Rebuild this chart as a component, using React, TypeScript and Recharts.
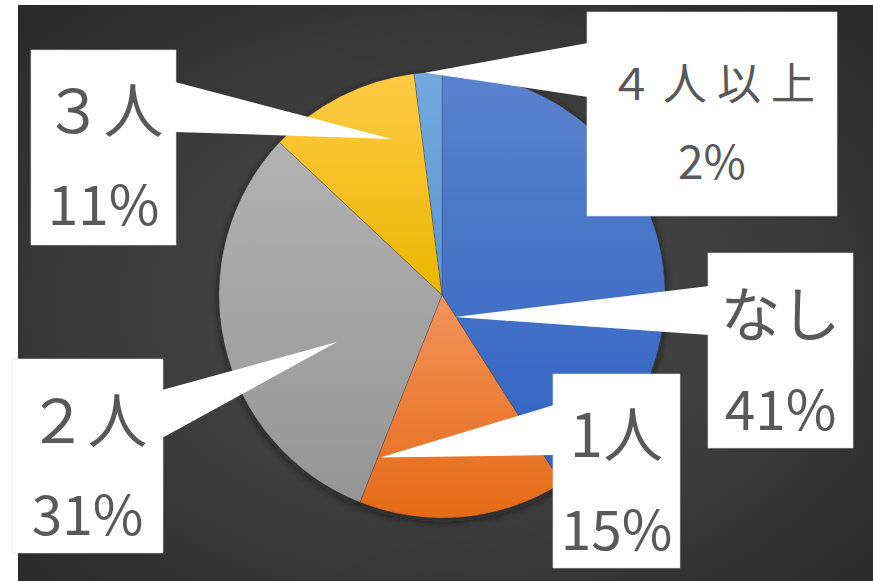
import React from 'react';
import { PieChart, Pie, Cell } from 'recharts';

// ---- data ----
const categories = ['なし', '1人', '２人', '３人', '４人以上'];
const values = [41, 15, 31, 11, 2];

// ---- styles / layout ----
const W = 873;
const H = 581;
const CX = 442;
const CY = 295;
const R = 223;

const gradients = [
  ['#5B82CD', '#2F63C2'],
  ['#F3935A', '#E56A17'],
  ['#B2B2B2', '#959595'],
  ['#FFCA45', '#EBB600'],
  ['#74A9DD', '#5898D4'],
];

// box: [x, y, w, h], wedge: [y1, y2] on the side facing the pie, tip: [angle clockwise from top, radius fraction]
const callouts = [
  { box: [708, 253, 145, 195], wedge: [286, 335], tip: [149.4, 0.115], l1y: 310, l2y: 406, fs1: 60, fs2: 55, ls1: 0 },
  { box: [553, 374, 127, 194], wedge: [405, 455], tip: [200.8, 0.78], l1y: 430, l2y: 526, fs1: 60, fs2: 55, ls1: 0 },
  { box: [12, 359, 151, 194], wedge: [390, 438], tip: [245.9, 0.516], l1y: 416, l2y: 511, fs1: 60, fs2: 55, ls1: 0 },
  { box: [31, 50, 145, 195], wedge: [82, 132], tip: [342.2, 0.735], l1y: 106, l2y: 201, fs1: 60, fs2: 55, ls1: 0 },
  { box: [587, 12, 250, 204], wedge: [43, 97], tip: [355.6, 1.0], l1y: 81, l2y: 159, fs1: 44, fs2: 46, ls1: 10 },
];

const total = values.reduce((a, b) => a + b, 0);
const data = categories.map((name, i) => ({ name, value: values[i] }));

const FONT = "'Noto Sans CJK JP', 'Noto Sans', sans-serif";
const TEXT = '#595959';

const renderCallout = (props: any) => {
  const { cx, cy, outerRadius, index } = props;
  const c = callouts[index];
  if (!c) return null;
  const [bx, by, bw, bh] = c.box;
  const ang = (c.tip[0] * Math.PI) / 180;
  const r = c.tip[1] * outerRadius;
  const tx = cx + r * Math.sin(ang);
  const ty = cy - r * Math.cos(ang);
  const baseX = tx < bx ? bx + 1 : bx + bw - 1;
  const midX = bx + bw / 2;
  const pct = `${Math.round((values[index] / total) * 100)}%`;
  return (
    <g key={`callout-${index}`}>
      <rect x={bx} y={by} width={bw} height={bh} fill="#ffffff" stroke="#e2e2e2" strokeWidth={0.6} />
      <polygon points={`${baseX},${c.wedge[0]} ${baseX},${c.wedge[1]} ${tx},${ty}`} fill="#ffffff" />
      <text
        x={midX + c.ls1 / 2}
        y={c.l1y}
        textAnchor="middle"
        dominantBaseline="central"
        fontFamily={FONT}
        fontSize={c.fs1}
        letterSpacing={c.ls1}
        fill={TEXT}
      >
        {categories[index]}
      </text>
      <text
        x={midX}
        y={c.l2y}
        textAnchor="middle"
        dominantBaseline="central"
        fontFamily={FONT}
        fontSize={c.fs2}
        fill={TEXT}
      >
        {pct}
      </text>
    </g>
  );
};

export default function App() {
  return (
    <div style={{ position: 'absolute', left: 0, top: 0, width: W, height: H, background: '#ffffff' }}>
      <div
        style={{
          position: 'absolute',
          left: 18,
          top: 5,
          width: W - 18,
          height: H - 5,
          background: 'radial-gradient(ellipse farthest-corner at 50% 52%, #4a4a4a 0%, #3f3f3f 45%, #292929 100%)',
        }}
      />
      <div style={{ position: 'absolute', left: 0, top: 0 }}>
        <PieChart width={W} height={H} margin={{ top: 0, right: 0, bottom: 0, left: 0 }}>
          <defs>
            {gradients.map((g, i) => (
              <linearGradient key={i} id={`grad${i}`} x1="0" y1="0" x2="0" y2="1">
                <stop offset="0%" stopColor={g[0]} />
                <stop offset="100%" stopColor={g[1]} />
              </linearGradient>
            ))}
            <filter id="pieShadow" x="-20%" y="-20%" width="140%" height="140%">
              <feGaussianBlur stdDeviation="4" />
            </filter>
          </defs>
          <Pie
            data={data}
            dataKey="value"
            nameKey="name"
            cx={CX}
            cy={CY + 3}
            outerRadius={R + 1}
            startAngle={90}
            endAngle={-270}
            isAnimationActive={false}
            stroke="none"
            label={false}
            labelLine={false}
          >
            {data.map((_, i) => (
              <Cell key={i} fill="#111111" fillOpacity={0.55} filter="url(#pieShadow)" />
            ))}
          </Pie>
          <Pie
            data={data}
            dataKey="value"
            nameKey="name"
            cx={CX}
            cy={CY}
            outerRadius={R}
            startAngle={90}
            endAngle={-270}
            isAnimationActive={false}
            stroke="rgba(60,60,60,0.45)"
            strokeWidth={0.7}
            label={renderCallout}
            labelLine={false}
          >
            {data.map((_, i) => (
              <Cell key={i} fill={`url(#grad${i})`} />
            ))}
          </Pie>
        </PieChart>
      </div>
    </div>
  );
}
